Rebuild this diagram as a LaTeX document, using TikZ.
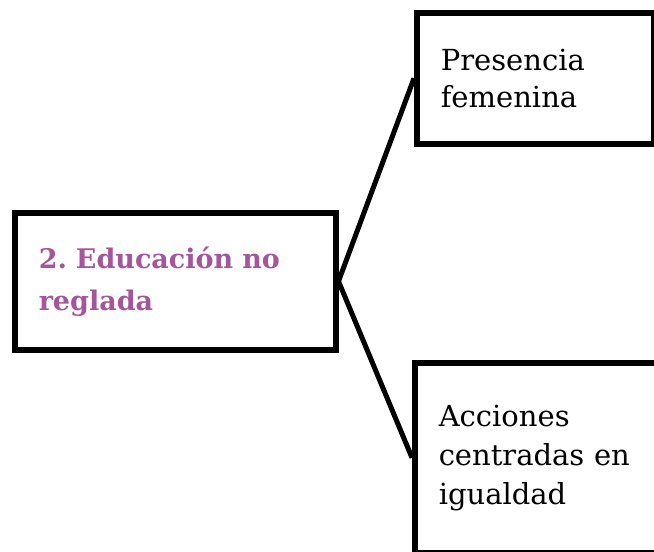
\documentclass[tikz,border=0pt]{standalone}
\usepackage{fontspec}
\setmainfont{DejaVu Serif}
\usetikzlibrary{positioning}

\definecolor{titlepurple}{HTML}{A4559C}

\tikzset{
  box/.style={draw=black, line width=5.5pt, fill=white, align=left,
              inner xsep=24pt, inner ysep=0pt, anchor=north west},
  branch/.style={line width=5pt}
}

\begin{document}
\frenchspacing
\begin{tikzpicture}[x=1pt,y=-1pt]
            % page frame
            \useasboundingbox (0,0) rectangle (654,552);
            \clip (0,0) rectangle (654,552);

            % boxes
            \node[box, minimum width=321pt, minimum height=137pt, text width=273pt,
                  font=\bfseries\fontsize{27}{42}\selectfont, text=titlepurple]
                  (edu) at (12,210) {2. Educación no\\reglada};
            \node[box, minimum width=237pt, minimum height=131pt, text width=189pt,
                  font=\fontsize{29}{37}\selectfont]
                  (pres) at (414,10) {Presencia\\femenina};
            \node[box, minimum width=300pt, minimum height=190pt, text width=252pt,
                  font=\fontsize{29}{39}\selectfont]
                  (acc) at (412,360) {Acciones\\centradas en\\igualdad};

            % connectors
            \draw[branch] (edu.east) -- (pres.west);
            \draw[branch] (edu.east) -- (acc.west);

        \end{tikzpicture}
\end{document}
